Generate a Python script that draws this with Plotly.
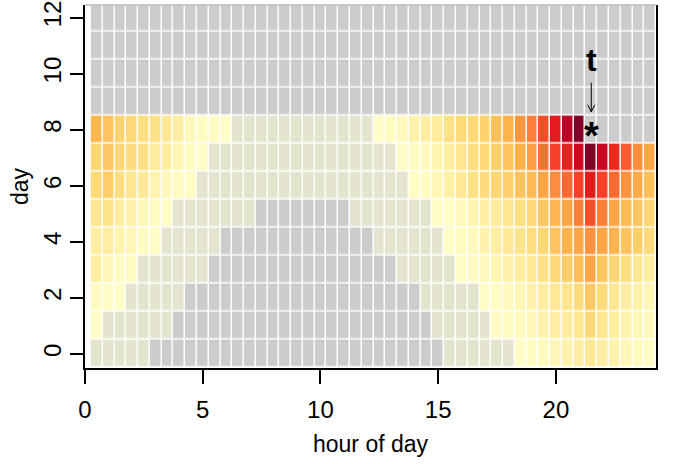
import plotly.graph_objects as go

N = None  # no data (grey cell); 0 = observed but negligible (beige cell)

hours = [0.5, 1.0, 1.5, 2.0, 2.5, 3.0, 3.5, 4.0, 4.5, 5.0, 5.5, 6.0,
         6.5, 7.0, 7.5, 8.0, 8.5, 9.0, 9.5, 10.0, 10.5, 11.0, 11.5, 12.0,
         12.5, 13.0, 13.5, 14.0, 14.5, 15.0, 15.5, 16.0, 16.5, 17.0, 17.5, 18.0,
         18.5, 19.0, 19.5, 20.0, 20.5, 21.0, 21.5, 22.0, 22.5, 23.0, 23.5, 24.0]
days = [0, 1, 2, 3, 4, 5, 6, 7, 8, 9, 10, 11, 12]

day0 = [0, 0, 0, 0, 0,
        N, N, N, N, N, N, N, N, N, N, N, N, N, N, N, N, N, N, N, N, N, N, N, N, N,
        0, 0, 0, 0, 0, 0,
        0.02, 0.03, 0.045, 0.06, 0.09, 0.115, 0.155, 0.115, 0.09, 0.06, 0.035, 0.03]
day1 = [0.02,
        0, 0, 0, 0, 0, 0,
        N, N, N, N, N, N, N, N, N, N, N, N, N, N, N, N, N, N, N, N, N, N,
        0, 0, 0, 0, 0,
        0.02, 0.025, 0.045, 0.06, 0.09, 0.115, 0.13, 0.17, 0.245, 0.17, 0.125, 0.09, 0.06, 0.045]
day2 = [0.025, 0.02, 0.02,
        0, 0, 0, 0, 0,
        N, N, N, N, N, N, N, N, N, N, N, N, N, N, N, N, N, N, N, N,
        0, 0, 0, 0, 0,
        0.02, 0.02, 0.045, 0.06, 0.1, 0.12, 0.155, 0.18, 0.23, 0.3, 0.23, 0.165, 0.12, 0.09, 0.06]
day3 = [0.12, 0.06, 0.03, 0.025,
        0, 0, 0, 0, 0, 0,
        N, N, N, N, N, N, N, N, N, N, N, N, N, N, N, N,
        0, 0, 0, 0, 0,
        0.02,
        0.025, 0.045, 0.07, 0.1, 0.125, 0.155, 0.2, 0.25, 0.29, 0.34, 0.42, 0.31, 0.26, 0.21, 0.165, 0.125]
day4 = [0.12, 0.12, 0.09, 0.06, 0.03, 0.02,
        0, 0, 0, 0, 0,
        N, N, N, N, N, N, N, N, N, N, N, N, N,
        0, 0, 0, 0, 0, 0,
        0.02, 0.03,
        0.045, 0.09, 0.12, 0.155, 0.18, 0.22, 0.26, 0.32, 0.375, 0.42, 0.48, 0.42, 0.37, 0.32, 0.28, 0.245]
day5 = [0.16, 0.19, 0.12, 0.1, 0.05, 0.03, 0.02,
        0, 0, 0, 0, 0, 0, 0,
        N, N, N, N, N, N, N, N,
        0, 0, 0, 0, 0, 0, 0,
        0.02, 0.02, 0.035,
        0.07, 0.11, 0.13, 0.17, 0.21, 0.25, 0.31, 0.36, 0.42, 0.53, 0.625, 0.53, 0.42, 0.35, 0.31, 0.26]
day6 = [0.25, 0.29, 0.22, 0.17, 0.15, 0.08, 0.05, 0.035, 0.02,
        0, 0, 0, 0, 0, 0, 0, 0, 0, 0, 0, 0, 0, 0, 0, 0, 0, 0,
        0.02, 0.03, 0.06, 0.11, 0.15,
        0.2, 0.23, 0.26, 0.28, 0.32, 0.35, 0.42, 0.5, 0.57, 0.66, 0.75, 0.66, 0.57, 0.48, 0.4, 0.33]
day7 = [0.26, 0.31, 0.26, 0.23, 0.2, 0.14, 0.12, 0.07, 0.035, 0.02,
        0, 0, 0, 0, 0, 0, 0, 0, 0, 0, 0, 0, 0, 0, 0, 0,
        0.02, 0.025, 0.04, 0.08, 0.12, 0.17,
        0.22, 0.25, 0.28, 0.32, 0.375, 0.45, 0.56, 0.66, 0.73, 0.83, 1.0, 0.84, 0.71, 0.6, 0.5, 0.42]
day8 = [0.36, 0.32, 0.27, 0.25, 0.22, 0.2, 0.15, 0.12, 0.06, 0.03, 0.025, 0.02,
        0, 0, 0, 0, 0, 0, 0, 0, 0, 0, 0, 0,
        0.02, 0.03, 0.05, 0.1, 0.12, 0.14, 0.2, 0.24,
        0.25, 0.27, 0.33, 0.375, 0.47, 0.53, 0.63, 0.75, 0.875, 1.0,
        N, N, N, N, N, N]
day9 = [N] * 48
day10 = [N] * 48
day11 = [N] * 48
day12 = [N] * 48

rows = [day0, day1, day2, day3, day4, day5, day6, day7, day8, day9, day10, day11, day12]

x_ticks = [0, 5, 10, 15, 20]
y_ticks = [0, 2, 4, 6, 8, 10, 12]

t_hour = 21.5   # current time marker
t_day = 8

GRAY_CODE = -0.2
BEIGE_CODE = -0.1
z = [[GRAY_CODE if v is None else (BEIGE_CODE if v == 0 else v) for v in row] for row in rows]

ylorrd = ["#ffffcc", "#ffeda0", "#fed976", "#feb24c", "#fd8d3c",
          "#fc4e2a", "#e31a1c", "#bd0026", "#800026"]
zmin, zmax = -0.2, 1.0
def norm(v):
    return (v - zmin) / (zmax - zmin)
colorscale = [[0.0, "#cccccc"], [0.05, "#cccccc"], [0.05, "#e4e4cf"], [0.12, "#e4e4cf"]]
for i, c in enumerate(ylorrd):
    colorscale.append([norm(i / 8), c])

FONT = "Liberation Sans, Arial, Helvetica, sans-serif"

fig = go.Figure(go.Heatmap(
    x=hours, y=days, z=z, zmin=zmin, zmax=zmax, colorscale=colorscale,
    showscale=False, xgap=1.5, ygap=1.5, hoverinfo="skip"))

fig.update_layout(
    width=675, height=464,
    margin=dict(l=85, r=19, t=5, b=96),
    plot_bgcolor="white", paper_bgcolor="white",
    font=dict(family=FONT, size=24, color="black"),
    showlegend=False,
)
fig.update_xaxes(
    range=[0, 24.25], tickvals=x_ticks, ticks="outside", ticklen=14, tickwidth=1.5,
    tickcolor="black", showline=True, linecolor="black", linewidth=1.5,
    showgrid=False, zeroline=False, automargin=False, ticklabeloverflow="allow",
    ticklabelstandoff=5,
    title=dict(text="hour of day", font=dict(size=23), standoff=14),
)
fig.update_yaxes(
    range=[-0.5, 12.45], tickvals=y_ticks, tickangle=-90, ticks="outside", ticklen=13,
    tickwidth=1.5, tickcolor="black", showline=True, mirror=True, linecolor="black",
    linewidth=1.5, showgrid=False, zeroline=False, automargin=False,
    ticklabeloverflow="allow",
    title=dict(text="day", font=dict(size=23), standoff=4),
)

# top border in grey
fig.add_shape(type="line", xref="paper", yref="paper", x0=0, x1=1, y0=1, y1=1,
              line=dict(color="#bbbbbb", width=1.5))

# marker "t" with arrow pointing at the current cell
fig.add_annotation(x=t_hour, y=t_day + 2.5, text="<b>t</b>", showarrow=False,
                   font=dict(size=32, family=FONT, color="black"))
arrow_top, arrow_tip = t_day + 1.68, t_day + 0.64
fig.add_shape(type="line", x0=t_hour, x1=t_hour, y0=arrow_top, y1=arrow_tip,
              line=dict(color="black", width=1))
fig.add_shape(type="line", x0=t_hour - 0.15, x1=t_hour, y0=arrow_tip + 0.25, y1=arrow_tip,
              line=dict(color="black", width=1))
fig.add_shape(type="line", x0=t_hour + 0.15, x1=t_hour, y0=arrow_tip + 0.25, y1=arrow_tip,
              line=dict(color="black", width=1))
fig.add_annotation(x=t_hour, y=t_day, text="<b>*</b>", showarrow=False, yshift=-6,
                   font=dict(size=38, family=FONT, color="black"))

fig.write_html("out.html", config={"displayModeBar": False},
               post_script="document.body.style.margin='0px';")
